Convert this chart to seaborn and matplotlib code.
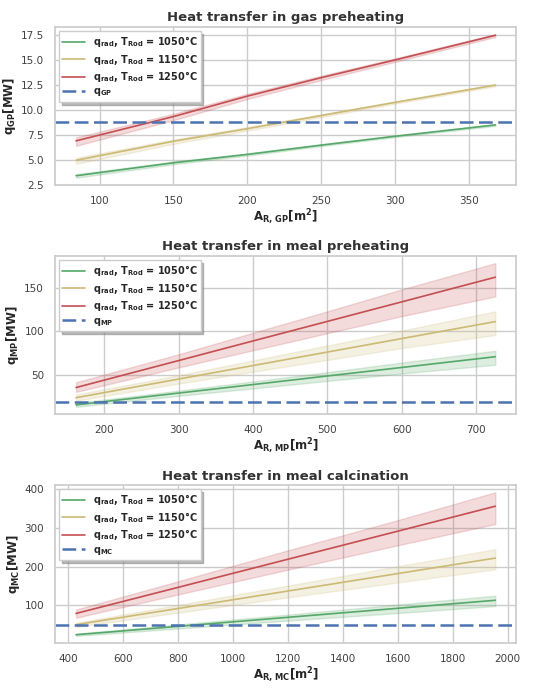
import numpy as np
import pandas as pd
import matplotlib
matplotlib.use("Agg")
import matplotlib.pyplot as plt
import seaborn as sns

# ---------------- data ----------------
temps = ["1050", "1150", "1250"]

x_gp = [84, 150, 200, 250, 300, 368]
gp_mid = {"1050": [3.4, 4.7, 5.54, 6.47, 7.36, 8.5],
          "1150": [4.95, 6.86, 8.12, 9.44, 10.76, 12.5],
          "1250": [6.9, 9.34, 11.39, 13.24, 15.02, 17.5]}
gp_lo = {"1050": [3.2, 4.55, 5.42, 6.37, 7.27, 8.4],
         "1150": [4.6, 6.6, 7.92, 9.28, 10.63, 12.38],
         "1250": [6.4, 8.98, 11.1, 13.0, 14.83, 17.33]}
gp_hi = {"1050": [3.55, 4.82, 5.64, 6.56, 7.44, 8.58],
         "1150": [5.2, 7.05, 8.28, 9.57, 10.87, 12.6],
         "1250": [7.25, 9.62, 11.62, 13.44, 15.18, 17.62]}
q_gp = 8.75

x_mp = [162, 300, 400, 500, 600, 726]
mp_mid = {"1050": [16.2, 29.7, 39.4, 49.2, 58.9, 71.2],
          "1150": [24.4, 45.7, 61.1, 76.5, 91.9, 111.3],
          "1250": [36.0, 66.8, 89.2, 111.5, 133.8, 162.0]}
mp_lo = {"1050": [14.0, 26.5, 35.0, 43.5, 52.0, 62.0],
         "1150": [21.0, 40.5, 54.0, 67.5, 81.0, 96.0],
         "1250": [31.0, 59.0, 78.5, 98.0, 117.5, 140.0]}
mp_hi = {"1050": [18.5, 32.5, 43.0, 53.5, 64.5, 78.0],
         "1150": [28.0, 50.0, 67.0, 84.0, 101.0, 123.0],
         "1250": [42.0, 74.0, 98.5, 123.0, 148.0, 178.0]}
q_mp = 19.1

x_mc = [429, 800, 1200, 1600, 1955]
mc_mid = {"1050": [24.0, 45.6, 69.0, 92.3, 113.0],
          "1150": [50.0, 91.8, 136.9, 182.0, 222.0],
          "1250": [79.0, 146.3, 219.0, 291.5, 356.0]}
mc_lo = {"1050": [21.0, 40.0, 60.5, 80.0, 98.0],
         "1150": [44.0, 81.0, 120.5, 159.0, 193.0],
         "1250": [68.0, 128.0, 192.0, 255.0, 310.0]}
mc_hi = {"1050": [27.0, 50.5, 76.0, 102.0, 125.0],
         "1150": [55.0, 101.0, 151.0, 201.0, 245.0],
         "1250": [89.0, 162.0, 242.0, 320.0, 392.0]}
q_mc = 50.0

titles = ["Heat transfer in gas preheating",
          "Heat transfer in meal preheating",
          "Heat transfer in meal calcination"]
subs = ["GP", "MP", "MC"]

# ---------------- style ----------------
sns.set_theme(style="whitegrid")
sns.set_color_codes("deep")
plt.rcParams["font.family"] = ["DejaVu Sans"]
plt.rcParams["mathtext.default"] = "bf"

colors = {"1050": "g", "1150": "y", "1250": "r"}

fig, axes = plt.subplots(3, 1, figsize=(5.51, 6.9), dpi=100)
fig.subplots_adjust(left=0.10, right=0.937, top=0.961, bottom=0.068, hspace=0.45)

panels = [(x_gp, gp_lo, gp_mid, gp_hi, q_gp),
          (x_mp, mp_lo, mp_mid, mp_hi, q_mp),
          (x_mc, mc_lo, mc_mid, mc_hi, q_mc)]

for ax, (xs, lo, mid, hi, qref), title, sub in zip(axes, panels, titles, subs):
    rows = []
    for t in temps:
        for i, xv in enumerate(xs):
            for v in (lo[t][i], mid[t][i], hi[t][i]):
                rows.append({"x": xv, "q": v, "T": t})
    df = pd.DataFrame(rows)
    for t in temps:
        sns.lineplot(data=df[df["T"] == t], x="x", y="q", ax=ax,
                     estimator="median",
                     errorbar=lambda v: (v.min(), v.max()),
                     color=colors[t], linewidth=1.2,
                     label=r"$q_{rad}$, $T_{Rod}$ = " + t + "°C")
    ax.axhline(qref, color="b", linestyle="--", linewidth=1.8, dashes=(5.5, 2.2),
               label=r"$q_{" + sub + "}$")
    ax.set_title(title, fontsize=9.5, fontweight="bold", color=".2", pad=4)
    ax.set_xlabel(r"$A_{R,\,%s}$[m$^{2}$]" % sub, fontsize=8.5, fontweight="bold",
                  labelpad=1)
    ax.set_ylabel(r"$q_{%s}$[MW]" % sub, fontsize=8.5, fontweight="bold", labelpad=2)
    ax.tick_params(axis="both", labelsize=7.5, pad=2, colors=".25")
    leg = ax.legend(loc="upper left", frameon=True, fancybox=False,
                    shadow={"color": "0.55", "alpha": 0.6},
                    prop={"weight": "bold", "size": 7}, handlelength=2.3,
                    borderpad=0.35, labelspacing=0.25, framealpha=1,
                    borderaxespad=0.4)
    leg.get_frame().set_edgecolor(".8")

axes[0].set_yticks([2.5, 5.0, 7.5, 10.0, 12.5, 15.0, 17.5])
axes[1].set_yticks([50, 100, 150])
axes[2].set_yticks([100, 200, 300, 400])
axes[2].set_xticks([400, 600, 800, 1000, 1200, 1400, 1600, 1800, 2000])

fig.savefig("out.png", dpi=100)
